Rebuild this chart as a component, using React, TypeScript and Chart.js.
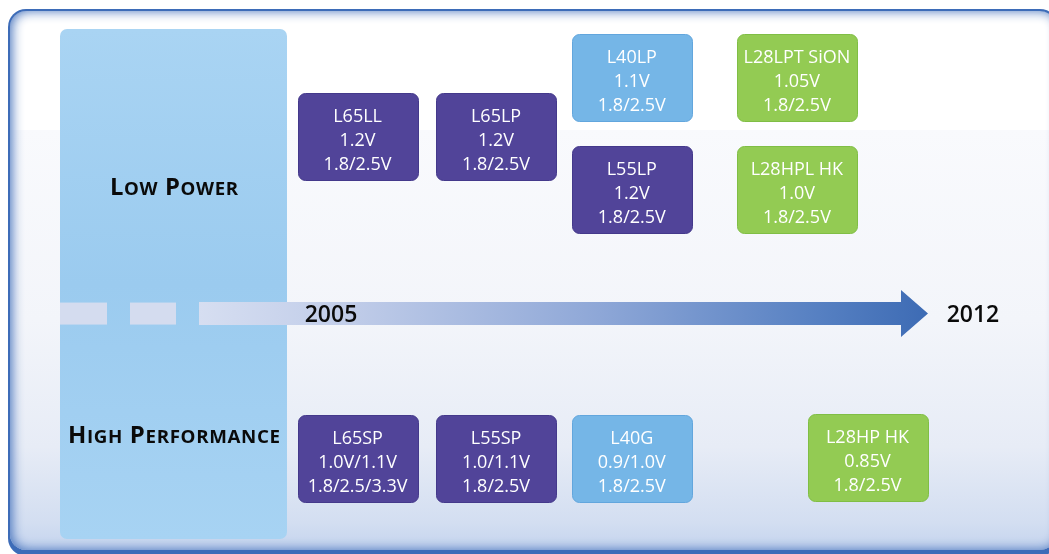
import React, { useEffect, useRef } from 'react';
import { Chart, registerables } from 'chart.js';

Chart.register(...registerables);

// ---- data ----
const processNames = ['L65LL', 'L65LP', 'L40LP', 'L55LP', 'L28LPT SiON', 'L28HPL HK', 'L65SP', 'L55SP', 'L40G', 'L28HP HK'];
const coreVoltages = ['1.2V', '1.2V', '1.1V', '1.2V', '1.05V', '1.0V', '1.0V/1.1V', '1.0/1.1V', '0.9/1.0V', '0.85V'];
const ioVoltages = ['1.8/2.5V', '1.8/2.5V', '1.8/2.5V', '1.8/2.5V', '1.8/2.5V', '1.8/2.5V', '1.8/2.5/3.3V', '1.8/2.5V', '1.8/2.5V', '1.8/2.5V'];
const processYears = [2005.29, 2006.8, 2008.28, 2008.28, 2010.08, 2010.08, 2005.29, 2006.8, 2008.28, 2010.85];
const processLanes = [2.46, 2.46, 1.39, 3.42, 1.39, 3.42, 8.28, 8.28, 8.28, 8.26];
const processNodes = ['65/55nm', '65/55nm', '40nm', '65/55nm', '28nm', '28nm', '65/55nm', '65/55nm', '40nm', '28nm'];
const platformNames = ['Low Power', 'High Performance'];
const platformLanes = [3.37, 7.85];
const timelineLabels = ['2005', '2012'];
const timelineYears = [2005, 2012];
const timelineLane = 5.66;

// ---- styles ----
const W = 1049;
const H = 554;
const FONT = "'Open Sans', 'DejaVu Sans', sans-serif";
const nodeColors: Record<string, [string, string]> = {
  '65/55nm': ['#514499', '#44398b'],
  '40nm': ['#75b6e7', '#62a6dd'],
  '28nm': ['#93cb53', '#80be45'],
};
const platformWidths = [128, 212];

function rr(ctx: CanvasRenderingContext2D, x: number, y: number, w: number, h: number, r: number) {
  ctx.beginPath();
  ctx.moveTo(x + r, y);
  ctx.lineTo(x + w - r, y);
  ctx.arcTo(x + w, y, x + w, y + r, r);
  ctx.lineTo(x + w, y + h - r);
  ctx.arcTo(x + w, y + h, x + w - r, y + h, r);
  ctx.lineTo(x + r, y + h);
  ctx.arcTo(x, y + h, x, y + h - r, r);
  ctx.lineTo(x, y + r);
  ctx.arcTo(x, y, x + r, y, r);
  ctx.closePath();
}

function drawSmallCaps(ctx: CanvasRenderingContext2D, text: string, cx: number, baseline: number, targetW: number) {
  const big = `700 23px ${FONT}`;
  const small = `700 18px ${FONT}`;
  const gap = 0.6;
  const parts = text.split('').map((ch) => {
    const isLower = ch !== ch.toUpperCase();
    const font = isLower ? small : big;
    ctx.font = font;
    const c = ch.toUpperCase();
    return { c, font, w: ctx.measureText(c).width };
  });
  const natural = parts.reduce((s, p) => s + p.w, 0) + gap * (parts.length - 1);
  const sx = targetW / natural;
  ctx.save();
  ctx.translate(cx - targetW / 2, baseline);
  ctx.scale(sx, 1);
  ctx.textAlign = 'left';
  let x = 0;
  parts.forEach((p) => {
    ctx.font = p.font;
    ctx.fillText(p.c, x, 0);
    x += p.w + gap;
  });
  ctx.restore();
}

const diagramPlugin = {
  id: 'diagram',
  beforeDraw(chart: any) {
    const ctx: CanvasRenderingContext2D = chart.ctx;
    const xs = chart.scales.x;
    const ys = chart.scales.y;
    ctx.save();
    ctx.fillStyle = '#ffffff';
    ctx.fillRect(0, 0, W, H);

    // outer frame
    rr(ctx, 8, 9, 1050, 547, 18);
    ctx.fillStyle = '#3d6cb8';
    ctx.fill();

    // inner area
    const ix = 10, iy = 11, iw = 1046, ih = 539;
    ctx.save();
    rr(ctx, ix, iy, iw, ih, 16);
    ctx.clip();
    ctx.fillStyle = '#ffffff';
    ctx.fillRect(ix, iy, iw, ih);
    const g = ctx.createLinearGradient(0, 130, 0, 552);
    g.addColorStop(0, '#f9fafd');
    g.addColorStop(0.45, '#f3f5fa');
    g.addColorStop(0.75, '#e7ecf6');
    g.addColorStop(0.93, '#d3def1');
    g.addColorStop(1, '#c3d3ee');
    ctx.fillStyle = g;
    ctx.fillRect(ix, 130, iw, ih);
    // inner shadow
    ctx.shadowColor = 'rgba(61,108,184,0.95)';
    ctx.shadowBlur = 12;
    ctx.shadowOffsetX = 2;
    ctx.shadowOffsetY = 0;
    ctx.beginPath();
    ctx.rect(-200, -200, W + 400, H + 400);
    ctx.moveTo(ix + 16, iy);
    ctx.arcTo(ix, iy, ix, iy + 16, 16);
    ctx.lineTo(ix, iy + ih - 16);
    ctx.arcTo(ix, iy + ih, ix + 16, iy + ih, 16);
    ctx.lineTo(ix + iw - 16, iy + ih);
    ctx.arcTo(ix + iw, iy + ih, ix + iw, iy + ih - 16, 16);
    ctx.lineTo(ix + iw, iy + 16);
    ctx.arcTo(ix + iw, iy, ix + iw - 16, iy, 16);
    ctx.closePath();
    ctx.fillStyle = '#3d6cb8';
    ctx.fill('evenodd');
    ctx.restore();

    // left platform panel
    const pg = ctx.createLinearGradient(0, 29, 0, 539);
    pg.addColorStop(0, '#a9d4f3');
    pg.addColorStop(0.5, '#9bcbef');
    pg.addColorStop(1, '#a7d3f3');
    rr(ctx, 60, 29, 227, 510, 7);
    ctx.fillStyle = pg;
    ctx.fill();

    // timeline
    const ty = ys.getPixelForValue(timelineLane);
    ctx.fillStyle = '#d4dcef';
    ctx.fillRect(60, ty - 11, 47, 22);
    ctx.fillRect(130, ty - 11, 46, 22);
    const ag = ctx.createLinearGradient(199, 0, 928, 0);
    ag.addColorStop(0, '#d6def1');
    ag.addColorStop(0.2, '#c1cde9');
    ag.addColorStop(0.55, '#8ea7d7');
    ag.addColorStop(0.85, '#5680c2');
    ag.addColorStop(1, '#3d6bb4');
    ctx.fillStyle = ag;
    ctx.beginPath();
    ctx.moveTo(199, ty - 11.5);
    ctx.lineTo(901, ty - 11.5);
    ctx.lineTo(901, ty - 23.5);
    ctx.lineTo(928, ty);
    ctx.lineTo(901, ty + 23.5);
    ctx.lineTo(901, ty + 11.5);
    ctx.lineTo(199, ty + 11.5);
    ctx.closePath();
    ctx.fill();

    // timeline labels
    ctx.fillStyle = '#0a0a0a';
    ctx.font = `600 23px ${FONT}`;
    ctx.textAlign = 'center';
    ctx.textBaseline = 'alphabetic';
    timelineLabels.forEach((t, i) => {
      ctx.fillText(t, xs.getPixelForValue(timelineYears[i]), ty + 8.3);
    });

    // platform labels
    platformNames.forEach((t, i) => {
      const py = ys.getPixelForValue(platformLanes[i]);
      drawSmallCaps(ctx, t, 174, py + 8, platformWidths[i]);
    });
    ctx.restore();
  },
  afterDatasetsDraw(chart: any) {
    const ctx: CanvasRenderingContext2D = chart.ctx;
    const meta = chart.getDatasetMeta(0);
    ctx.save();
    meta.data.forEach((pt: any, i: number) => {
      const cx = pt.x;
      const cy = pt.y;
      const bw = 120;
      const bh = 87;
      const [fill, stroke] = nodeColors[processNodes[i]];
      rr(ctx, Math.round(cx - bw / 2) + 0.5, Math.round(cy - bh / 2) + 0.5, bw, bh, 7);
      ctx.fillStyle = fill;
      ctx.fill();
      ctx.strokeStyle = stroke;
      ctx.lineWidth = 1;
      ctx.stroke();
      ctx.fillStyle = '#ffffff';
      ctx.font = `500 18px ${FONT}`;
      ctx.textAlign = 'center';
      ctx.textBaseline = 'alphabetic';
      const lines = [processNames[i], coreVoltages[i], ioVoltages[i]];
      const offs = [-21, 3, 27];
      lines.forEach((l, k) => ctx.fillText(l, cx, cy + offs[k] + 6.5));
    });
    ctx.restore();
  },
};

export default function App() {
  const ref = useRef<HTMLCanvasElement>(null);
  useEffect(() => {
    if (!ref.current) return;
    const chart = new Chart(ref.current, {
      type: 'scatter',
      data: {
        datasets: [
          {
            label: 'Processes',
            data: processYears.map((x, i) => ({ x, y: processLanes[i] })),
            pointRadius: 0,
            pointHoverRadius: 0,
            showLine: false,
          },
        ],
      },
      options: {
        responsive: false,
        animation: false,
        events: [],
        layout: { padding: 0 },
        plugins: { legend: { display: false }, tooltip: { enabled: false } },
        scales: {
          x: { type: 'linear', display: false, min: 2001.391, max: 2012.829 },
          y: { type: 'linear', display: false, min: 0, max: 10, reverse: true },
        },
      },
      plugins: [diagramPlugin],
    } as any);
    return () => chart.destroy();
  }, []);
  return (
    <div style={{ position: 'fixed', left: 0, top: 0, width: W, height: H, background: '#fff' }}>
      <canvas ref={ref} width={W} height={H} style={{ width: W, height: H, display: 'block' }} />
    </div>
  );
}
